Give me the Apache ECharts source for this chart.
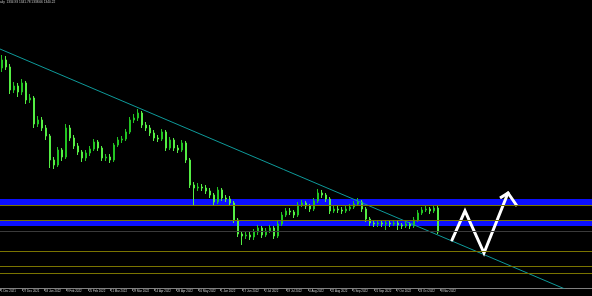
<!DOCTYPE html>
<html><head><meta charset="utf-8">
<script src="https://cdn.jsdelivr.net/npm/echarts@6/dist/echarts.min.js"></script>
<style>html,body{margin:0;padding:0;background:#000;}#c{width:592px;height:296px;}</style>
</head><body><div id="c"></div>
<script>
const headerText = 'aily  1334.93 1341.78 1338.66 1340.22';
const dateLabels = ['1 Dec 2021','27 Dec 2021','18 Jan 2022','9 Feb 2022','25 Feb 2022','11 Mar 2022','29 Mar 2022','14 Apr 2022','28 Apr 2022','16 May 2022','1 Jun 2022','17 Jun 2022','2 Jul 2022','19 Jul 2022','4 Aug 2022','22 Aug 2022','5 Sep 2022','21 Sep 2022','7 Oct 2022','23 Oct 2022','8 Nov 2022'];
const opens = [1664,1680,1666,1620,1628,1616,1634,1600,1604,1552,1560,1544,1528,1480,1470,1500,1486,1544,1524,1508,1496,1484,1494,1502,1516,1504,1484,1486,1480,1510,1520,1522,1536,1560,1564,1574,1550,1544,1534,1524,1522,1536,1504,1520,1504,1500,1514,1480,1430,1424,1426,1424,1418,1410,1396,1420,1404,1402,1394,1360,1332,1328,1330,1326,1336,1344,1330,1338,1344,1328,1352,1370,1378,1376,1370,1390,1394,1388,1382,1398,1414,1410,1402,1378,1382,1380,1378,1382,1386,1392,1396,1382,1362,1354,1352,1354,1352,1354,1352,1354,1350,1348,1352,1348,1360,1374,1380,1382,1378,1384];
const closes = [1680,1666,1620,1628,1616,1634,1600,1604,1552,1560,1544,1528,1480,1470,1500,1486,1544,1524,1508,1496,1484,1494,1502,1516,1504,1484,1486,1480,1510,1520,1522,1536,1560,1564,1574,1550,1544,1534,1524,1522,1536,1504,1520,1504,1500,1514,1480,1430,1424,1426,1424,1418,1410,1396,1420,1404,1402,1394,1360,1332,1328,1330,1326,1336,1344,1330,1338,1344,1328,1352,1370,1378,1376,1370,1390,1394,1388,1382,1398,1414,1410,1402,1378,1382,1380,1378,1382,1386,1392,1396,1382,1362,1354,1352,1354,1352,1354,1352,1354,1350,1348,1352,1348,1360,1374,1380,1382,1378,1384,1336];
const lows = [1656,1660,1612,1614,1606,1610,1592,1594,1544,1546,1538,1520,1464,1462,1466,1478,1482,1518,1502,1490,1476,1478,1488,1498,1498,1478,1478,1474,1476,1506,1514,1518,1532,1554,1558,1544,1538,1528,1518,1516,1518,1498,1500,1498,1494,1496,1474,1424,1390,1418,1418,1412,1404,1390,1392,1398,1396,1388,1354,1326,1310,1322,1320,1320,1330,1324,1326,1334,1322,1324,1348,1366,1370,1364,1366,1386,1382,1376,1378,1394,1404,1396,1372,1374,1374,1372,1374,1378,1382,1388,1376,1356,1348,1346,1346,1346,1340,1346,1348,1340,1342,1344,1342,1344,1356,1370,1376,1372,1374,1332];
const highs = [1690,1688,1672,1636,1634,1642,1638,1612,1608,1568,1566,1550,1532,1486,1506,1504,1552,1550,1530,1514,1500,1500,1508,1522,1520,1508,1492,1492,1514,1526,1528,1542,1566,1572,1582,1578,1556,1550,1540,1530,1542,1540,1526,1524,1510,1520,1518,1484,1436,1434,1432,1430,1424,1414,1426,1424,1410,1408,1398,1364,1338,1336,1336,1342,1350,1348,1344,1350,1348,1358,1376,1384,1384,1380,1396,1400,1398,1392,1404,1422,1420,1414,1406,1388,1388,1386,1388,1392,1398,1404,1400,1386,1366,1358,1360,1358,1360,1358,1360,1358,1354,1358,1356,1366,1380,1386,1388,1386,1390,1388];
const blueBands = [[1390,1402],[1348,1358]];
const oliveLevels = [1389,1360,1298,1268,1254];
const grayLevels = [1338];
const trendLine = [[0,1702],[296,1199]];
const zigzag = [[226,1320],[232.5,1378],[242,1294],[254,1414]];
const arrowHead = [[250,1404],[254,1414],[258.5,1388]];
const slotCount = 148;

const candleData = closes.map((c,i)=>[opens[i],c,lows[i],highs[i]]);
const cats = Array.from({length:slotCount},(_,i)=>i);
const labelSlots = dateLabels.map((_,i)=>i*11);

const chart = echarts.init(document.getElementById('c'));
chart.setOption({
  backgroundColor:'#000',
  animation:false,
  title:{text:headerText,left:0,top:1,padding:0,textStyle:{color:'#c8c8c8',fontSize:3.2,fontWeight:'normal',fontFamily:'Liberation Sans, sans-serif'}},
  grid:{left:0,right:0,top:0,bottom:8,containLabel:false,outerBoundsMode:'none'},
  xAxis:[
    {type:'category',data:cats,show:false,boundaryGap:true},
    {type:'value',min:0,max:296,position:'bottom',splitLine:{show:false},
     axisLine:{show:true,lineStyle:{color:'#808080',width:1}},
     axisTick:{show:true,customValues:labelSlots,length:3,inside:false,lineStyle:{color:'#808080'}},
     axisLabel:{show:true,customValues:labelSlots,align:'left',margin:2,padding:[0,0,0,1],color:'#d0d0d0',fontSize:2.9,
       hideOverlap:false,
       fontFamily:'Liberation Sans, sans-serif',
       formatter:v=>dateLabels[Math.round(v/11)]||''}}
  ],
  yAxis:{type:'value',min:1224,max:1800,show:false,splitLine:{show:false}},
  series:[
    {type:'line',xAxisIndex:1,data:[],z:1,silent:true,
     markArea:{silent:true,itemStyle:{color:'#0c10ff',opacity:1},
       data:blueBands.map(b=>[{yAxis:b[0]},{yAxis:b[1]}])}},
    {type:'line',xAxisIndex:1,data:[],z:1,silent:true,
     markLine:{silent:true,symbol:'none',label:{show:false},
       data:oliveLevels.map(v=>({yAxis:v,lineStyle:{color:'#7a7400',width:1,type:'solid'}}))
         .concat(grayLevels.map(v=>({yAxis:v,lineStyle:{color:'#3a3a3a',width:1,type:'solid'}})))}},
    {type:'candlestick',xAxisIndex:0,data:candleData,barWidth:2,z:2,
     itemStyle:{color:'#22c422',color0:'#55ee44',borderColor:'#22c422',borderColor0:'#55ee44',borderWidth:1}},
    {type:'line',xAxisIndex:1,data:trendLine,symbol:'none',z:3,clip:true,
     lineStyle:{color:'#0e9a9a',width:1}},
    {type:'line',xAxisIndex:1,data:zigzag,symbol:'none',z:4,
     lineStyle:{color:'#ffffff',width:3,cap:'round',join:'miter'}},
    {type:'line',xAxisIndex:1,data:arrowHead,symbol:'none',z:4,
     lineStyle:{color:'#ffffff',width:3,join:'miter'}}
  ]
});
</script></body></html>
